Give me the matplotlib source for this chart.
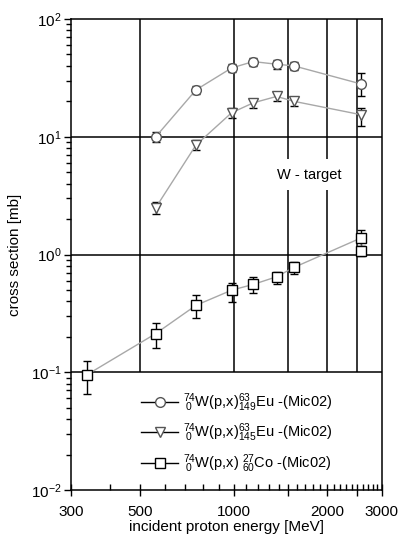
import numpy as np
import matplotlib
matplotlib.use("Agg")
import matplotlib.pyplot as plt
from matplotlib.ticker import FixedLocator, FixedFormatter, NullFormatter

plt.rcParams['font.family'] = ['Liberation Sans', 'DejaVu Sans']
plt.rcParams['mathtext.fontset'] = 'custom'
plt.rcParams['mathtext.rm'] = 'Liberation Sans'
plt.rcParams['mathtext.it'] = 'Liberation Sans:italic'
plt.rcParams['mathtext.bf'] = 'Liberation Sans:bold'

# Eu-149 production
eu149_E = [562, 757, 986, 1157, 1375, 1563, 2568]
eu149_s = [10.0, 25.0, 38.4, 43.5, 41.3, 40.0, 28.1]
eu149_lo = [0.9, 2.0, 3.2, 3.5, 3.4, 3.2, 6.0]
eu149_hi = [0.9, 2.0, 3.2, 3.5, 3.4, 3.2, 6.5]

# Eu-145 production
eu145_E = [562, 757, 986, 1157, 1375, 1563, 2568]
eu145_s = [2.5, 8.5, 16.0, 19.4, 22.0, 20.0, 15.4]
eu145_lo = [0.3, 0.8, 1.6, 1.7, 2.0, 1.8, 3.0]
eu145_hi = [0.3, 0.8, 1.6, 1.7, 2.0, 1.8, 2.0]

# Co-60 production
co60_E = [337, 562, 757, 986, 1157, 1375, 1563, 2568, 2568]
co60_s = [0.095, 0.213, 0.37, 0.498, 0.557, 0.647, 0.776, 1.38, 1.07]
co60_lo = [0.029, 0.051, 0.08, 0.10, 0.09, 0.08, 0.09, 0.22, 0.10]
co60_hi = [0.030, 0.051, 0.08, 0.08, 0.09, 0.07, 0.09, 0.22, 0.10]

xtick_major = [300, 500, 1000, 1500, 2000, 2500, 3000]
xtick_labels = ['300', '500', '1000', '', '2000', '', '3000']
grid_E = [500, 1000, 1500, 2000, 2500]
grid_s = [0.1, 1, 10]

labels = [r'$^{74}_{\ 0}$W(p,x)$^{63}_{149}$Eu -(Mic02)',
          r'$^{74}_{\ 0}$W(p,x)$^{63}_{145}$Eu -(Mic02)',
          r'$^{74}_{\ 0}$W(p,x) $^{27}_{60}$Co -(Mic02)']

fig = plt.figure(figsize=(3.99, 5.43), dpi=100)
ax = fig.add_axes([0.178, 0.0976, 0.779, 0.8674])
ax.set_xscale('log')
ax.set_yscale('log')
ax.set_xlim(300, 3000)
ax.set_ylim(0.01, 100)

# grid lines
for yv in grid_s:
    ax.axhline(yv, color='black', lw=1.1, zorder=1)
ax.vlines(grid_E, 0.1, 100, color='black', lw=1.1, zorder=1)

line_col = '#a8a8a8'
mk_col = '#555555'

def series(E, s, lo, hi, marker, ms, mec, label):
    ax.errorbar(E, s, yerr=[lo, hi], fmt='none', ecolor='black',
                elinewidth=1.0, capsize=3, capthick=1.0, zorder=3)
    ax.plot(E, s, color=line_col, lw=1.0, marker=marker, ms=ms,
            mfc='white', mec=mec, mew=1.0, zorder=4, label=label)

series(eu149_E, eu149_s, eu149_lo, eu149_hi, 'o', 7, mk_col, labels[0])
series(eu145_E, eu145_s, eu145_lo, eu145_hi, 'v', 7, mk_col, labels[1])
series(co60_E, co60_s, co60_lo, co60_hi, 's', 6.5, 'black', labels[2])

ax.text(1755, 4.77, 'W - target', ha='center', va='center', fontsize=10.5,
        bbox=dict(boxstyle='square,pad=0.6', fc='white', ec='none'), zorder=2)

leg = ax.legend(loc='upper left', bbox_to_anchor=(0.205, 0.222), frameon=True,
                fontsize=10.5, handlelength=2.6, handletextpad=0.3,
                labelspacing=0.55, borderaxespad=0)
leg.get_frame().set_facecolor('white')
leg.get_frame().set_edgecolor('none')
leg.set_zorder(5)
for h in leg.legend_handles:
    h.set_color('black')
    h.set_markeredgecolor(mk_col if h.get_marker() != 's' else 'black')
    h.set_markerfacecolor('white')

# ticks
ax.xaxis.set_major_locator(FixedLocator(xtick_major))
ax.xaxis.set_major_formatter(FixedFormatter(xtick_labels))
minor_x = [v for v in range(400, 3000, 100) if v not in xtick_major]
ax.xaxis.set_minor_locator(FixedLocator(minor_x))
ax.xaxis.set_minor_formatter(NullFormatter())
ax.tick_params(axis='x', which='major', direction='inout', length=9, width=1.0,
               labelsize=11, pad=6)
ax.tick_params(axis='x', which='minor', direction='in', length=4, width=1.0)
ax.tick_params(axis='y', which='major', direction='out', length=5, width=1.0,
               labelsize=11, pad=2)
ax.tick_params(axis='y', which='minor', direction='out', length=3.5, width=1.0)
ax.set_yticks([0.01, 0.1, 1, 10, 100])
ax.set_yticklabels([r'$10^{-2}$', r'$10^{-1}$', r'$10^{0}$', r'$10^{1}$', r'$10^{2}$'])
for sp in ax.spines.values():
    sp.set_linewidth(1.1)

ax.set_xlabel('incident proton energy [MeV]', fontsize=11, labelpad=1)
ax.set_ylabel('cross section [mb]', fontsize=11, labelpad=6)

fig.savefig('out.png', dpi=100)
